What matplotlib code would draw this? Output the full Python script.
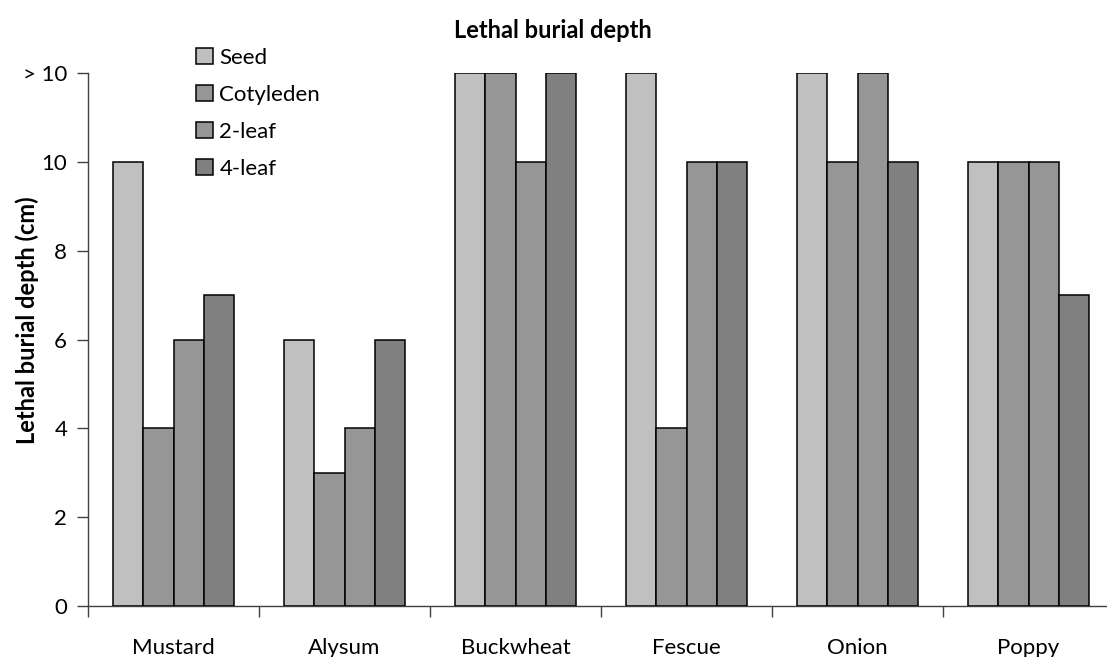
import matplotlib
matplotlib.use("Agg")
import matplotlib.pyplot as plt
from matplotlib.patches import Patch
import numpy as np

plt.rcParams['font.family'] = ['Lato', 'DejaVu Sans']

categories = ["Mustard", "Alysum", "Buckwheat", "Fescue", "Onion", "Poppy"]
series_names = ["Seed", "Cotyleden", "2-leaf", "4-leaf"]
seed = [10, 6, 12, 12, 12, 10]
cotyleden = [4, 3, 12, 4, 10, 10]
leaf2 = [6, 4, 10, 10, 12, 10]
leaf4 = [7, 6, 12, 10, 10, 7]
yticks = [0, 2, 4, 6, 8, 10, 12]
ytick_labels = ["0", "2", "4", "6", "8", "10", "> 10"]
colors = ["#c0c0c0", "#969696", "#969696", "#808080"]

W, H = 1107, 657
fig = plt.figure(figsize=(W / 100, H / 100), dpi=100)
left, right, bottom, top = 88, 1114, 606, 73
ax = fig.add_axes([left / W, (H - bottom) / H, (right - left) / W, (bottom - top) / H])

n = len(categories)
x = np.arange(n)
bw = 0.178
data = [seed, cotyleden, leaf2, leaf4]
for i, (vals, c) in enumerate(zip(data, colors)):
    ax.bar(x + (i - 1.5) * bw, vals, width=bw, color=c, edgecolor="black", linewidth=1.1, zorder=3)

ax.set_xlim(-0.5, n - 0.5)
ax.set_ylim(0, 12)
ax.set_yticks(yticks)
ax.set_yticklabels(ytick_labels, fontsize=16)
ax.set_xticks(np.arange(-0.5, n, 1.0))
ax.set_xticklabels([])
ax.set_xticks(x, minor=True)
ax.set_xticklabels(categories, minor=True, fontsize=16)
ax.tick_params(axis="x", which="minor", length=0, pad=23)
ax.tick_params(axis="x", which="major", length=8, width=1, color="#404040", direction="out")
ax.tick_params(axis="y", length=8, width=1, color="#404040", direction="out", pad=7)
for s in ["top", "right"]:
    ax.spines[s].set_visible(False)
for s in ["left", "bottom"]:
    ax.spines[s].set_color("#404040")
    ax.spines[s].set_linewidth(1)

fig.text(27 / W, 1 - 320 / H, "Lethal burial depth (cm)", rotation=90, ha="center", va="center",
         fontsize=17, fontweight="bold")
fig.text(553 / W, 1 - 30 / H, "Lethal burial depth", ha="center", va="center",
         fontsize=17, fontweight="bold")

handles = [Patch(facecolor=c, edgecolor="black", linewidth=1.1) for c in colors]
fig.legend(handles, series_names, loc="upper left", bbox_to_anchor=(196 / W, 1 - 48 / H),
           frameon=False, fontsize=16, handlelength=0.75, handleheight=0.75,
           handletextpad=0.3, labelspacing=0.76, borderpad=0, borderaxespad=0)

fig.savefig("out.png", dpi=100)
